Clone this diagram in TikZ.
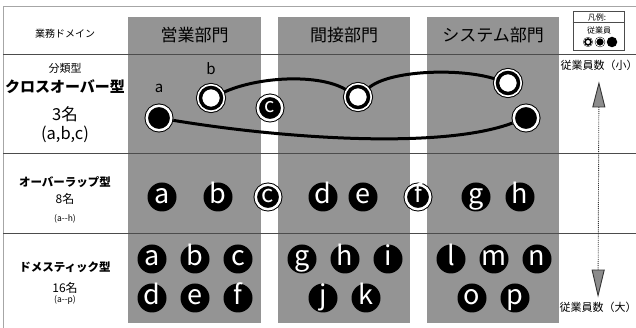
\documentclass[tikz,border=0pt]{standalone}
\usepackage{fontspec}
\setmainfont{Noto Sans CJK JP}
\usetikzlibrary{positioning, arrows.meta}

\begin{document}
\begin{tikzpicture}[
    x = 1pt, y = 1pt,
    every node/.style = {font=\fontsize{10}{12}\selectfont, inner sep=1pt},
    dept/.style     = {fill=black!42},
    rule/.style     = {draw=black!70, line width=0.7pt},
    frame/.style    = {draw=black!35, line width=0.8pt},
    head/.style     = {font=\fontsize{17}{18}\selectfont},
    kind/.style     = {font=\bfseries\fontsize{11.5}{13}\selectfont},
    staffnum/.style = {font=\fontsize{12}{13}\selectfont},
    members/.style  = {font=\fontsize{8.5}{9}\selectfont},
    big/.style      = {font=\fontsize{16.5}{17}\selectfont},
    emp/.style      = {circle, fill=black, text=white, inner sep=0pt,
                       minimum size=29pt, text height=13pt, text depth=0pt,
                       font=\fontsize{27}{27}\selectfont},
    empring/.style  = {emp, draw=white, line width=2.5pt, minimum size=24.5pt,
                       outer sep=2.25pt, text height=11.5pt,
                       font=\fontsize{24}{24}\selectfont,
                       preaction={draw=black, line width=4.5pt}},
    empwhite/.style = {circle, fill=white, draw=black, line width=3.5pt,
                       inner sep=0pt, minimum size=21pt, outer sep=4pt,
                       preaction={draw=black, line width=9pt},
                       preaction={draw=white, line width=7pt}},
    tag/.style      = {font=\fontsize{15}{15}\selectfont},
    legwhite/.style = {circle, fill=white, draw=black, line width=1.6pt,
                       inner sep=0pt, minimum size=6pt,
                       preaction={draw=black, line width=3.6pt},
                       preaction={draw=white, line width=2.8pt}},
    legring/.style  = {circle, fill=black, draw=white, line width=0.9pt,
                       inner sep=0pt, minimum size=8.5pt,
                       preaction={draw=black, line width=1.8pt}},
    legsolid/.style = {circle, fill=black, inner sep=0pt, minimum size=10.5pt},
    link/.style     = {line width=3pt, black},
    arr/.style      = {{Triangle[length=26pt, width=13pt, fill=black!45]}-{Triangle[length=28pt, width=13pt, fill=black!45]},
                       densely dotted, line width=0.9pt, black!80}
]
\useasboundingbox (0,0) rectangle (636,328);

% departments
\fill[dept] (128,5) rectangle (261,311);
\fill[dept] (278,5) rectangle (410,311);
\fill[dept] (427,5) rectangle (559,311);

% frame and rules
\draw[frame] (3,0) -- (3,322) -- (636,322);
\draw[rule] (3,274) -- (636,274);
\draw[rule] (3,175) -- (636,175);
\draw[rule] (3,95) -- (636,95);

\node[head] (hsales) at (194.5,293) {営業部門};
\node[head] (hadmin) at (344,293)   {間接部門};
\node[head] (hsys)   at (493,293)   {システム部門};

% left column
\node (domain) at (65,294) {業務ドメイン};
\node[font=\fontsize{11}{12}\selectfont] (cls) at (65,260) {分類型};
\node[kind, font=\bfseries\fontsize{15}{16}\selectfont] (kcross) at (65,241) {クロスオーバー型};
\node[big]      (ncross) at (65,214) {3名};
\node[big]      (rcross) at (65,194) {(a,b,c)};
\node[kind]     (kover)  at (65,146) {オーバーラップ型};
\node[staffnum] (nover)  at (65,129) {8名};
\node[members]  (rover)  at (65,109) {(a-{}-h)};
\node[kind]     (kdom)   at (65,61)  {ドメスティック型};
\node[staffnum] (ndom)   at (65,40)  {16名};
\node[members]  (rdom)   at (65,28)  {(a-{}-p)};

% legend
\node[draw=black!70, line width=0.6pt, minimum width=51pt, minimum height=39pt,
      inner sep=0pt] (legend) at (598.5,297.5) {};
\draw[black!70, line width=0.5pt] ([yshift=-12pt]legend.north west) -- ([yshift=-12pt]legend.north east);
\node[font=\fontsize{8}{8}\selectfont] (legtitle) at (597,311) {凡例:};
\node[font=\fontsize{8}{8}\selectfont] (legstaff) at (599,298) {従業員};
\node[legwhite] (leg1) at (588,286) {};
\node[legring]  (leg2) at (600,286) {};
\node[legsolid] (leg3) at (612,286) {};

% scale of staff numbers
\node[font=\fontsize{11}{12}\selectfont] (nsmall) at (599,263) {従業員数（小）};
\node[font=\fontsize{11}{12}\selectfont] (nlarge) at (598,21)  {従業員数（大）};
\draw[arr, shorten <=10pt, shorten >=3pt] (nsmall) -- (nlarge);

% crossover
\node[empring]  (ca)  at (159,210) {};
\node[empwhite] (cb)  at (211,230) {};
\node[empring, font=\fontsize{20}{20}\selectfont, text height=9.7pt] (cc) at (270,220) {c};
\node[empwhite] (cw2) at (358,231) {};
\node[empwhite] (cw3) at (508,245) {};
\node[empring]  (ck3) at (526,210) {};
\node[tag, above=9.5pt of ca] (la) {a};
\node[tag, above=7.5pt of cb] (lb) {b};

\draw[link] (cb) .. controls (260,252) and (320,254) .. (cw2);
\draw[link] (cw2) .. controls (390,258) and (460,260) .. (cw3);
\draw[link] (ca) .. controls (280,190) and (440,178) .. (ck3);

% overlap
\node[emp]     (oa) at (162,131) {a};
\node[emp]     (ob) at (218,131) {b};
\node[empring] (oc) at (268,131) {c};
\node[emp]     (od) at (323,131) {d};
\node[emp]     (oe) at (363,131) {e};
\node[empring] (of) at (418,131) {f};
\node[emp]     (og) at (476,131) {g};
\node[emp]     (oh) at (520,131) {h};

% domestic
\node[emp] (da) at (152,69) {a};
\node[emp] (db) at (195,69) {b};
\node[emp] (dc) at (238,69) {c};
\node[emp] (dd) at (152,30) {d};
\node[emp] (de) at (195,30) {e};
\node[emp] (df) at (238,30) {f};
\node[emp] (dg) at (302,69) {g};
\node[emp] (dh) at (345,69) {h};
\node[emp] (di) at (388,69) {i};
\node[emp] (dj) at (323,30) {j};
\node[emp] (dk) at (366,30) {k};
\node[emp] (dl) at (451,69) {l};
\node[emp] (dm) at (494,69) {m};
\node[emp] (dn) at (537,69) {n};
\node[emp] (do) at (472,30) {o};
\node[emp] (dp) at (515,30) {p};
\end{tikzpicture}
\end{document}
